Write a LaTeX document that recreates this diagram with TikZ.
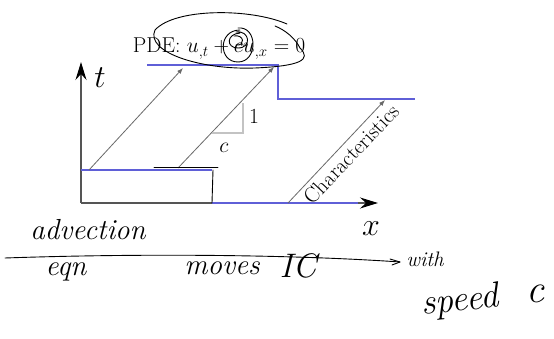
\RequirePackage{fix-cm}
\documentclass[tikz,border=0pt]{standalone}
\usepackage{fontspec}
\usetikzlibrary{arrows.meta}
\definecolor{icblue}{RGB}{95,95,215}
\definecolor{chargray}{RGB}{105,105,105}
\definecolor{axisgray}{RGB}{85,85,85}
\definecolor{trigray}{RGB}{195,195,195}
\tikzset{
  lbl/.style={inner sep=0pt, font=\fontsize{21.5}{25}\selectfont},
  biglbl/.style={inner sep=0pt, font=\fontsize{32}{36}\selectfont},
  hand/.style={inner sep=0pt, font=\fontsize{29}{33}\selectfont\itshape},
  axisline/.style={axisgray, line width=1.6pt, -{Stealth[length=18pt,width=11pt,inset=6pt,black]}},
  icline/.style={icblue, line width=1.6pt},
  charline/.style={chargray, line width=0.8pt, -{Latex[length=6pt,width=4.5pt]}},
  ink/.style={black, line width=0.9pt, line cap=round, line join=round},
}
\begin{document}
\begin{tikzpicture}[x=1pt,y=-1pt]
\useasboundingbox[fill=white] (0,0) rectangle (554,339);
% coordinates
\coordinate (O) at (81,203);
\coordinate (tT) at (81,62);
\coordinate (xT) at (378,203);
\coordinate (s0) at (212,203);
\coordinate (s1) at (358,203);
\coordinate (ic0) at (81,170);
\coordinate (ic1) at (212,170);
\coordinate (f0) at (147,65);
\coordinate (f1) at (278,65);
\coordinate (f2) at (278,99);
\coordinate (f3) at (415,99);
\coordinate (a1s) at (89,170);
\coordinate (a1e) at (183,68);
\coordinate (a2s) at (178,168);
\coordinate (a2e) at (274,67);
\coordinate (a3s) at (288,203);
\coordinate (a3e) at (385,100);
\coordinate (tr1) at (212,133);
\coordinate (tr2) at (243,133);
\coordinate (tr3) at (243,103);
% axes
\draw[axisline] (O) -- (tT);
\draw[axisline] (O) -- (xT);
\draw[icline] (s0) -- (s1);
% initial data and solution
\draw[icline] (ic0) -- (ic1);
\draw[icline] (f0) -- (f1) -- (f2) -- (f3);
% characteristics
\draw[charline] (a1s) -- (a1e);
\draw[charline] (a2s) -- (a2e);
\draw[charline] (a3s) -- (a3e);
% slope triangle
\draw[trigray, line width=1.2pt] (tr1) -- (tr2) -- (tr3);
\node[lbl] (one) at (254,117) {$1$};
\node[lbl] (cc) at (224,148) {$c$};
% labels
\node[biglbl] (tl) at (100,78) {$t$};
\node[biglbl] (xl) at (371,229) {$x$};
\node[lbl, rotate=46.5] (chr) at (351,154) {Characteristics};
\node[lbl, anchor=base] (pde) at (219,53) {PDE: $u_{,t} + c u_{,x} = 0$};
% handwriting
\node[hand] (adv) at (88,230) {advection};
\node[hand] (eqn) at (66,272) {eqn};
\node[hand] (mov) at (222,268) {moves};
\node[hand, font=\fontsize{34}{38}\selectfont\itshape] (ic) at (298,266) {IC};
\node[hand, font=\fontsize{21}{24}\selectfont\itshape] (wth) at (425,259) {with};
\node[hand, font=\fontsize{36}{40}\selectfont\itshape, rotate=6] (spd) at (460,302) {speed};
\node[hand, font=\fontsize{40}{44}\selectfont\itshape] (spc) at (535,294) {c};
\draw[ink] (5,258) .. controls (150,253) and (300,255) .. (400,262);
\draw[ink] (390,259) -- (400,262) -- (392,265);
\draw[ink] (154,167) -- (218,167);
\draw[ink] (213,170) -- (212,203);
% scribbles round the PDE
\draw[ink] (287,24) .. controls (250,8) and (175,8) .. (155,30)
  .. controls (145,52) and (200,70) .. (255,68)
  .. controls (300,66) and (312,60) .. (300,48)
  .. controls (295,38) and (285,30) .. (275,26);
\draw[ink] (238,28) .. controls (258,26) and (258,62) .. (238,62)
  .. controls (218,62) and (218,30) .. (240,30);
\draw[ink] (236,32) .. controls (250,30) and (252,48) .. (238,48)
  .. controls (226,48) and (226,34) .. (240,33);
\draw[ink] (234,36) .. controls (244,34) and (246,46) .. (236,45);
\end{tikzpicture}
\end{document}
